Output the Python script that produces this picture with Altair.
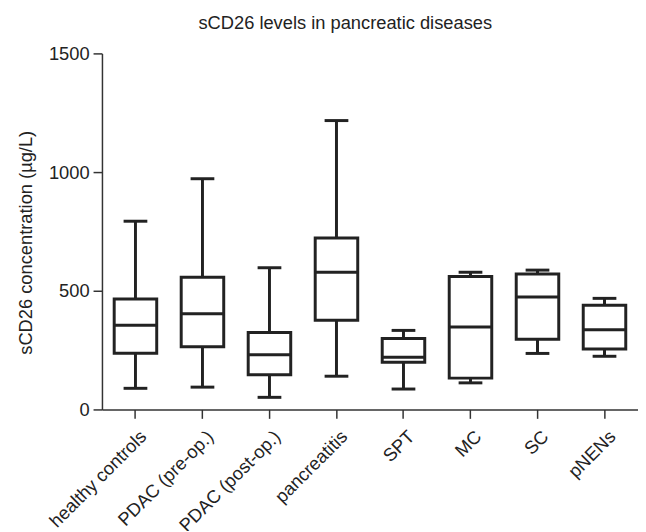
import altair as alt
import pandas as pd

categories = ["healthy controls", "PDAC (pre-op.)", "PDAC (post-op.)", "pancreatitis",
              "SPT", "MC", "SC", "pNENs"]
whisker_low = [89, 94, 51, 140, 86, 112, 236, 224]
q1 = [237, 264, 146, 376, 199, 132, 296, 255]
median = [355, 403, 230, 578, 220, 347, 474, 336]
q3 = [465, 557, 324, 722, 299, 560, 571, 439]
whisker_high = [793, 972, 597, 1217, 333, 578, 587, 468]

df = pd.DataFrame({
    "cat": categories,
    "low": whisker_low,
    "q1": q1,
    "median": median,
    "q3": q3,
    "high": whisker_high,
})

FONT = "Liberation Sans"
INK = "#222222"
FS = 18.5

x_enc = alt.X(
    "cat:N",
    sort=categories,
    scale=alt.Scale(paddingInner=0, paddingOuter=0),
    axis=alt.Axis(
        title=None,
        labelAngle=315,
        labelAlign="right",
        labelBaseline="middle",
        labelFont=FONT,
        labelFontSize=FS,
        labelColor=INK,
        labelPadding=15,
        labelOffset=8,
        tickSize=9,
        tickWidth=1.5,
        tickColor="#333333",
        domainColor="#333333",
        domainWidth=1.5,
        grid=False,
    ),
)

y_scale = alt.Scale(domain=[0, 1500], nice=False, zero=True)
y_axis = alt.Axis(
    title="sCD26 concentration (µg/L)",
    values=[0, 500, 1000, 1500],
    format="d",
    labelFont=FONT,
    labelFontSize=FS,
    labelColor=INK,
    labelPadding=4,
    tickSize=9,
    tickWidth=1.5,
    tickColor="#333333",
    domainColor="#333333",
    domainWidth=1.5,
    grid=False,
    titleFont=FONT,
    titleFontSize=FS,
    titleFontWeight="normal",
    titleColor=INK,
    titleAngle=270,
    titleAlign="center",
    titleBaseline="middle",
    titleX=-77,
    titleY=191,
)

base = alt.Chart(df)

whisker = base.mark_rule(color=INK, strokeWidth=3).encode(
    x=x_enc,
    y=alt.Y("low:Q", scale=y_scale, axis=y_axis),
    y2="high:Q",
)

box = base.mark_bar(size=43, fill="white", stroke=INK, strokeWidth=3).encode(
    x=alt.X("cat:N", sort=categories),
    y=alt.Y("q1:Q", scale=y_scale),
    y2="q3:Q",
)

med = base.mark_tick(color=INK, opacity=1, thickness=3, size=44, orient="horizontal").encode(
    x=alt.X("cat:N", sort=categories),
    y=alt.Y("median:Q", scale=y_scale),
)

cap_low = base.mark_tick(color=INK, opacity=1, thickness=3, size=24, orient="horizontal").encode(
    x=alt.X("cat:N", sort=categories),
    y=alt.Y("low:Q", scale=y_scale),
)

cap_high = base.mark_tick(color=INK, opacity=1, thickness=3, size=24, orient="horizontal").encode(
    x=alt.X("cat:N", sort=categories),
    y=alt.Y("high:Q", scale=y_scale),
)

chart = alt.layer(whisker, box, med, cap_low, cap_high).properties(
    width=542,
    height=360,
    autosize=alt.AutoSizeParams(type="none"),
    padding={"left": 95, "top": 43, "right": 0, "bottom": 120},
    title=alt.TitleParams(
        "sCD26 levels in pancreatic diseases",
        font=FONT,
        fontSize=FS,
        fontWeight="normal",
        color=INK,
        anchor="middle",
        dx=-25,
        offset=12,
    ),
).configure_view(stroke=None)

chart.save("out.html", embed_options={"renderer": "svg", "actions": False})
